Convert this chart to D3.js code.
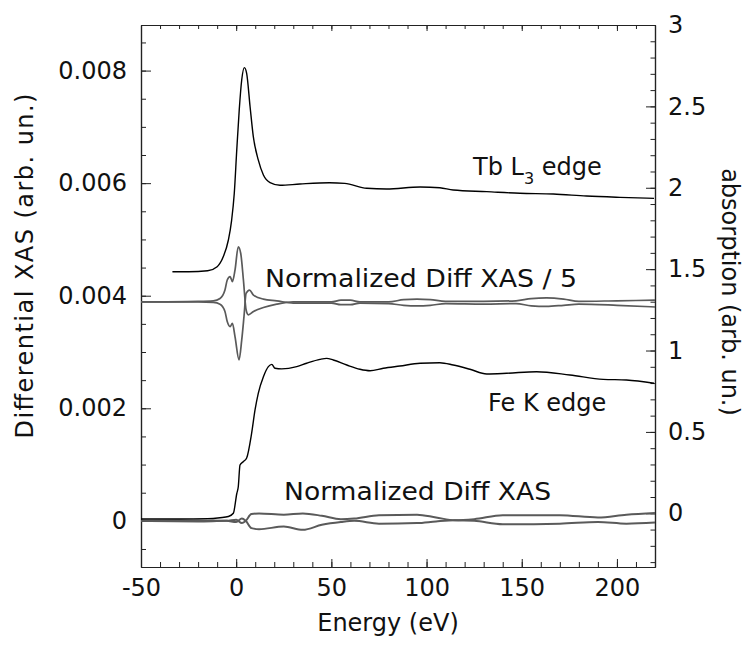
<!DOCTYPE html>
<html><head><meta charset="utf-8">
<script src="https://cdn.jsdelivr.net/npm/d3@7"></script>
<style>body{margin:0;background:#fff}</style>
</head><body><svg id="c" width="747" height="650"></svg>
<script>
// ---- axes / tick data ----
const energyDomain = [-50, 220];
const leftDomain = [-0.00082, 0.00881];
const rightDomain = [-0.33, 3];
const xTicks = [-50, 0, 50, 100, 150, 200];
const leftTicks = [0, 0.002, 0.004, 0.006, 0.008];
const rightTicks = [0, 0.5, 1, 1.5, 2, 2.5, 3];

// ---- Tb L3 edge absorption (right axis) ----
const tbE   = [-33.5,-25,-15,-10,-6.8,-4.1,-2.4,-1.0,0.3,1.6,2.9,4.3,5.5,7.3,9.0,11.6,14.3,17.8,23,33.5,49,57,68.6,79,96.6,107,114,131.6,149,166.6,184,201.6,219.5];
const tbAbs = [1.484,1.484,1.49,1.515,1.576,1.679,1.80,1.966,2.232,2.478,2.662,2.738,2.703,2.498,2.314,2.171,2.078,2.031,2.015,2.023,2.031,2.027,1.997,1.992,2.005,2.0,1.986,1.976,1.966,1.962,1.949,1.941,1.935];

// ---- Fe K edge absorption (right axis) ----
const feE   = [-50,-30,-15,-8.5,-4.1,-1.5,0.3,1.1,2.0,3.7,5.5,8.1,9.9,11.6,14.3,16.9,18.7,20.4,23.9,31.8,37,44,47.5,51,58.1,65,70.3,77.3,86,96.6,107,114,122.8,131.6,142.1,157.8,175.3,192.8,205,219.5];
const feAbs = [-0.035,-0.035,-0.033,-0.027,-0.02,0.0,0.12,0.163,0.297,0.317,0.34,0.491,0.635,0.737,0.839,0.901,0.915,0.891,0.887,0.901,0.922,0.946,0.952,0.942,0.911,0.885,0.876,0.891,0.905,0.922,0.925,0.911,0.885,0.856,0.860,0.870,0.850,0.823,0.819,0.799];

// ---- Normalized Diff XAS / 5 (left axis), two field directions ----
const d5E  = [-50,-20,-12,-8.5,-5.9,-4.7,-3.2,-2.0,-0.6,1.1,2.4,3.8,5.2,6.4,9.1,14.3,21.3,30,50,55,60,65,80,88,95,102,110,130,147,155,163,172,180,200,220];
const d5A  = [0.00389,0.0039,0.00391,0.00395,0.0041,0.00428,0.00434,0.00425,0.00446,0.00487,0.00475,0.00428,0.00375,0.00366,0.00372,0.00379,0.00385,0.00389,0.00389,0.00392,0.00392,0.00389,0.00389,0.00393,0.00394,0.00393,0.0039,0.0039,0.00391,0.00395,0.00396,0.00394,0.0039,0.00391,0.00392];
const d5EB = [-50,-20,-12,-8.5,-5.9,-4.7,-3.2,-2.0,-0.6,1.5,2.9,4.1,5.2,7.0,9.1,14.3,21.3,30,50,55,60,65,80,88,95,102,110,130,147,155,163,172,180,200,220];
const d5B  = [0.00389,0.00389,0.00388,0.00385,0.00372,0.00354,0.00345,0.00351,0.00327,0.00286,0.00321,0.00363,0.00404,0.0041,0.00401,0.00394,0.00391,0.00387,0.00387,0.00384,0.00384,0.00387,0.00386,0.00383,0.00382,0.00383,0.00386,0.00385,0.00386,0.00382,0.00381,0.00383,0.00385,0.00383,0.0038];

// ---- Normalized Diff XAS (left axis), two field directions ----
const dE = [-50,-20,-5,0,3,5,8,12,25,35,45,55,62,75,95,105,115,125,140,170,190,205,220];
const dA = [0,0.00001,0,0.00002,-0.00004,0,0.00012,0.00013,0.00011,0.00013,0.00009,0.00003,0.00004,0.0001,0.00011,0.00006,0.00001,0.00003,0.0001,0.0001,0.00006,0.00011,0.00014];
const dB = [0,-0.00001,0,-0.00002,0.00004,0,-0.00013,-0.00015,-0.0001,-0.00016,-0.00007,-0.00002,0.0,-0.00005,-0.00004,-0.00001,0.00001,0.0,-0.00006,-0.00005,-0.00002,-0.00005,-0.00003];

// ---- chart ----
const FONT = "'DejaVu Sans ExtraLight', 'DejaVu Sans', sans-serif";
const TXT = "#111";
const svg = d3.select("#c");
const M = {l:141, r:655, t:25, b:567};
const x  = d3.scaleLinear().domain(energyDomain).range([M.l, M.r]);
const yL = d3.scaleLinear().domain(leftDomain).range([M.b, M.t]);
const yR = d3.scaleLinear().domain(rightDomain).range([M.b, M.t]);

function styleAxis(g){
  g.selectAll("path.domain").attr("stroke","#222").attr("stroke-width",1.2);
  g.selectAll(".tick line").attr("stroke","#222").attr("stroke-width",1);
  g.selectAll("text").attr("font-family",FONT).attr("font-size",24).attr("fill",TXT);
}
const xMinor = d3.range(-50, 221, 10);
const lMinor = d3.range(-0.0005, 0.00851, 0.0005);
const rMinor = d3.range(-3, 31, 1).map(d => d/10);

// bottom
svg.append("g").attr("transform",`translate(0,${M.b})`)
  .call(d3.axisBottom(x).tickValues(xMinor).tickSizeInner(-5).tickSizeOuter(0).tickFormat(""))
  .call(styleAxis);
svg.append("g").attr("transform",`translate(0,${M.b})`)
  .call(d3.axisBottom(x).tickValues(xTicks).tickSizeInner(-8).tickSizeOuter(0).tickPadding(12).tickFormat(d=>String(d)))
  .call(styleAxis);
// top
svg.append("g").attr("transform",`translate(0,${M.t})`)
  .call(d3.axisTop(x).tickValues(xMinor).tickSizeInner(-4).tickSizeOuter(0).tickFormat(""))
  .call(styleAxis);
svg.append("g").attr("transform",`translate(0,${M.t})`)
  .call(d3.axisTop(x).tickValues(xTicks).tickSizeInner(-6).tickSizeOuter(0).tickFormat(""))
  .call(styleAxis);
// left
svg.append("g").attr("transform",`translate(${M.l},0)`)
  .call(d3.axisLeft(yL).tickValues(lMinor).tickSizeInner(-5).tickSizeOuter(0).tickFormat(""))
  .call(styleAxis);
svg.append("g").attr("transform",`translate(${M.l},0)`)
  .call(d3.axisLeft(yL).tickValues(leftTicks).tickSizeInner(-10).tickSizeOuter(0).tickPadding(14)
    .tickFormat(d => d === 0 ? "0" : d3.format(".3f")(d)))
  .call(styleAxis);
// right
svg.append("g").attr("transform",`translate(${M.r},0)`)
  .call(d3.axisRight(yR).tickValues(rMinor).tickSizeInner(-4.5).tickSizeOuter(0).tickFormat(""))
  .call(styleAxis);
svg.append("g").attr("transform",`translate(${M.r},0)`)
  .call(d3.axisRight(yR).tickValues(rightTicks).tickSizeInner(-9).tickSizeOuter(0).tickPadding(13)
    .tickFormat(d3.format("~g")))
  .call(styleAxis);

// lines
const lineR = d3.line().x(d=>x(d[0])).y(d=>yR(d[1])).curve(d3.curveMonotoneX);
const lineL = d3.line().x(d=>x(d[0])).y(d=>yL(d[1])).curve(d3.curveMonotoneX);
const zip = (a,b) => a.map((e,i)=>[e,b[i]]);

const plot = svg.append("g");
plot.append("path").attr("d", lineL(zip(dE,dA))).attr("fill","none").attr("stroke","#5a5a5a").attr("stroke-width",2);
plot.append("path").attr("d", lineL(zip(dE,dB))).attr("fill","none").attr("stroke","#5a5a5a").attr("stroke-width",2);
plot.append("path").attr("d", lineL(zip(d5E,d5A))).attr("fill","none").attr("stroke","#5a5a5a").attr("stroke-width",1.7);
plot.append("path").attr("d", lineL(zip(d5EB,d5B))).attr("fill","none").attr("stroke","#5a5a5a").attr("stroke-width",1.7);
plot.append("path").attr("d", lineR(zip(feE,feAbs))).attr("fill","none").attr("stroke","#000").attr("stroke-width",1.4);
plot.append("path").attr("d", lineR(zip(tbE,tbAbs))).attr("fill","none").attr("stroke","#000").attr("stroke-width",1.4);

// annotations
const txt = (xx,yy,s) => svg.append("text").attr("x",xx).attr("y",yy)
  .attr("font-family",FONT).attr("font-size",24).attr("fill",TXT).text(s);
const tb = svg.append("text").attr("x",473).attr("y",175)
  .attr("font-family",FONT).attr("font-size",24).attr("fill",TXT);
tb.append("tspan").text("Tb L");
tb.append("tspan").attr("font-size",16).attr("dy",9).text("3");
tb.append("tspan").attr("dy",-9).text(" edge");
txt(265,287,"Normalized Diff XAS / 5").attr("textLength",312).attr("lengthAdjust","spacingAndGlyphs");
txt(488,411,"Fe K edge");
txt(284,500,"Normalized Diff XAS").attr("textLength",267).attr("lengthAdjust","spacingAndGlyphs");

// axis titles
svg.append("text").attr("transform","translate(33,266) rotate(-90)").attr("text-anchor","middle")
  .attr("font-family",FONT).attr("font-size",24).attr("fill",TXT)
  .attr("textLength",345).attr("lengthAdjust","spacing").text("Differential XAS (arb. un.)");
svg.append("text").attr("transform","translate(722,292) rotate(90)").attr("text-anchor","middle")
  .attr("font-family",FONT).attr("font-size",24).attr("fill",TXT).text("absorption (arb. un.)");
svg.append("text").attr("x",388).attr("y",631).attr("text-anchor","middle")
  .attr("font-family",FONT).attr("font-size",24).attr("fill",TXT).text("Energy (eV)");
</script></body></html>
